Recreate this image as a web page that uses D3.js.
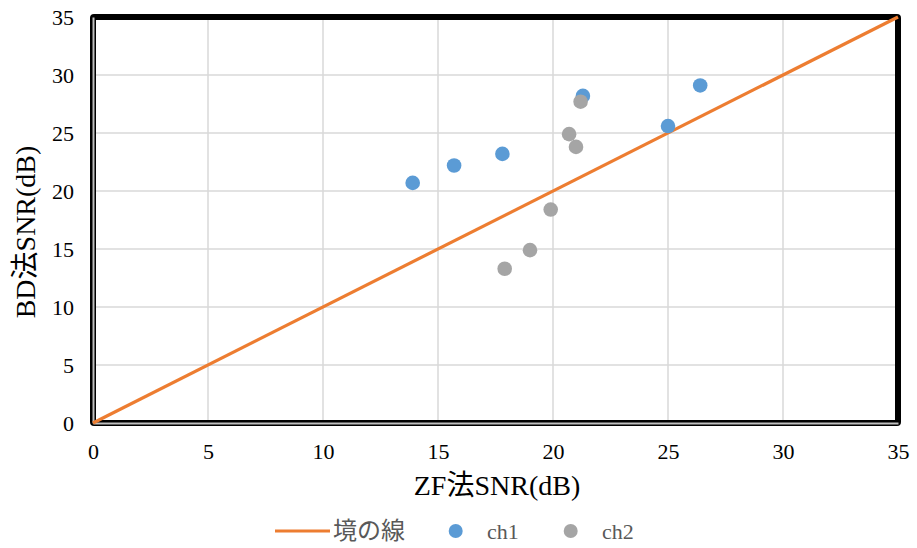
<!DOCTYPE html>
<html>
<head>
<meta charset="utf-8">
<script src="https://cdn.jsdelivr.net/npm/d3@7"></script>
<style>
  html, body { margin: 0; padding: 0; background: #fff; }
  svg text { font-family: "Liberation Serif", "Noto Sans CJK JP", serif; }
</style>
</head>
<body>
<svg id="chart" width="917" height="548"></svg>
<script>
// Series data (dB)
const ch1X = [13.9, 15.7, 17.8, 21.3, 25.0, 26.4];
const ch1Y = [20.7, 22.2, 23.2, 28.2, 25.6, 29.1];
const ch2X = [21.2, 20.7, 21.0, 19.9, 19.0, 17.9];
const ch2Y = [27.7, 24.9, 23.8, 18.4, 14.9, 13.3];
const boundaryX = [0, 35];
const boundaryY = [0, 35];
const tickValues = [0, 5, 10, 15, 20, 25, 30, 35];
const legendLabels = ["境の線", "ch1", "ch2"];

const svg = d3.select("#chart");
const x = d3.scaleLinear().domain([0, 35]).range([93, 898]);
const y = d3.scaleLinear().domain([0, 35]).range([423, 17]);

// gridlines
const grid = svg.append("g");
grid.selectAll("line.v").data(tickValues).join("line")
  .attr("x1", d => x(d)).attr("x2", d => x(d))
  .attr("y1", y(0)).attr("y2", y(35))
  .attr("stroke", "#d9d9d9").attr("stroke-width", 1.5);
grid.selectAll("line.h").data(tickValues).join("line")
  .attr("x1", x(0)).attr("x2", x(35))
  .attr("y1", d => y(d)).attr("y2", d => y(d))
  .attr("stroke", "#d9d9d9").attr("stroke-width", 1.5);

// plot frame
svg.append("rect")
  .attr("x", x(0)).attr("y", y(35))
  .attr("width", x(35) - x(0)).attr("height", y(0) - y(35))
  .attr("fill", "none").attr("stroke", "#000").attr("stroke-width", 6)
  .attr("rx", 1);

// axes (gray axis lines inside frame)
const xAxis = d3.axisBottom(x).tickValues(tickValues).tickSize(0).tickPadding(36);
const yAxis = d3.axisLeft(y).tickValues(tickValues).tickSize(0).tickPadding(19);
const gx = svg.append("g").attr("transform", `translate(0,${y(0)})`).call(xAxis);
const gy = svg.append("g").attr("transform", `translate(${x(0)},0)`).call(yAxis);
[gx, gy].forEach(g => {
  g.attr("font-family", null);
  g.select(".domain").attr("stroke", "#bfbfbf").attr("stroke-width", 2);
  g.selectAll("text").attr("font-size", 22).attr("fill", "#000")
    .style("font-family", "'Liberation Serif', serif");
});
gx.selectAll("text").attr("dy", "0");
gy.selectAll("text").attr("dy", "0.33em");

// boundary line
const line = d3.line().x(d => x(d[0])).y(d => y(d[1]));
svg.append("path")
  .datum(boundaryX.map((v, i) => [v, boundaryY[i]]))
  .attr("d", line).attr("fill", "none")
  .attr("stroke", "#ED7D31").attr("stroke-width", 3.2);

// scatter points
function drawSeries(xs, ys, color) {
  svg.append("g").selectAll("circle")
    .data(xs.map((v, i) => [v, ys[i]])).join("circle")
    .attr("cx", d => x(d[0])).attr("cy", d => y(d[1]))
    .attr("r", 7.3).attr("fill", color);
}
drawSeries(ch1X, ch1Y, "#5B9BD5");
drawSeries(ch2X, ch2Y, "#A5A5A5");

// axis titles
svg.append("text").attr("x", 497).attr("y", 495)
  .attr("text-anchor", "middle").attr("font-size", 28).attr("fill", "#000")
  .text("ZF法SNR(dB)");
svg.append("text")
  .attr("transform", `translate(35,232) rotate(-90)`)
  .attr("text-anchor", "middle").attr("font-size", 28).attr("fill", "#000")
  .text("BD法SNR(dB)");

// legend
const lg = svg.append("g");
lg.append("line").attr("x1", 275).attr("x2", 330).attr("y1", 531).attr("y2", 531)
  .attr("stroke", "#ED7D31").attr("stroke-width", 3.2);
lg.append("text").attr("x", 333).attr("y", 539).attr("font-size", 24)
  .attr("fill", "#595959").text(legendLabels[0]);
lg.append("circle").attr("cx", 455.7).attr("cy", 531).attr("r", 7).attr("fill", "#5B9BD5");
lg.append("text").attr("x", 487).attr("y", 539).attr("font-size", 22)
  .attr("fill", "#595959").text(legendLabels[1]);
lg.append("circle").attr("cx", 570.7).attr("cy", 531).attr("r", 7).attr("fill", "#A5A5A5");
lg.append("text").attr("x", 602).attr("y", 539).attr("font-size", 22)
  .attr("fill", "#595959").text(legendLabels[2]);
</script>
</body>
</html>
